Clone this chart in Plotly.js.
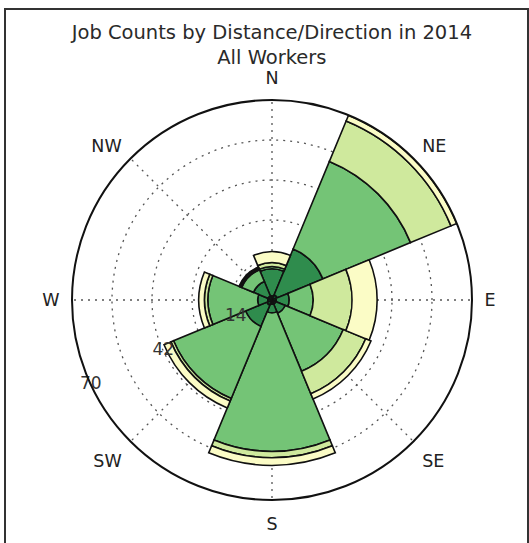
<!DOCTYPE html>
<html>
<head>
<meta charset="utf-8">
<script src="https://cdn.plot.ly/plotly-3.0.1.min.js"></script>
<style>
  html, body { margin: 0; padding: 0; background: #ffffff; }
  #wrap { position: relative; width: 529px; height: 543px; overflow: hidden; }
  #chart { position: absolute; left: 0; top: 0; width: 529px; height: 543px; }
  #frame { position: absolute; left: 4px; top: 8px; width: 521px; height: 560px;
           border: 2px solid #333; pointer-events: none; }
</style>
</head>
<body>
<div id="wrap">
  <div id="chart"></div>
  <div id="frame"></div>
</div>
<script>
// Directions (angular categories)
const directions = ['N', 'NE', 'E', 'SE', 'S', 'SW', 'W', 'NW'];

// Stacked job counts per distance bin (inner -> outer), one value per direction
const binNames = ['Bin 1', 'Bin 2', 'Bin 3', 'Bin 4', 'Bin 5'];
const bin1 = [1.5, 2.0, 1.5, 1.5, 1.5, 2.0, 1.5, 1.5];
const bin2 = [9.4, 17.3, 4.5, 3.5, 3.0, 8.0, 3.5, 5.5];
const bin3 = [0.8, 33.2, 8.4, 22.0, 48.5, 27.3, 17.4, 4.5];
const bin4 = [1.4, 15.3, 13.6, 8.5, 2.2, 1.0, 1.2, 0.5];
const bin5 = [3.8, 2.2, 8.8, 2.0, 2.7, 2.6, 2.0, 0.5];
const binColors = ['#0c4f2a', '#2f8c4d', '#74c476', '#cfe99d', '#fbfcc6'];

// Radial ticks (gridlines) and the subset that carries a label
const radialTicks = [14, 28, 42, 56, 70];
const radialLabelTicks = [14, 42, 70];

const titleLines = ['Job Counts by Distance/Direction in 2014', 'All Workers'];

// angular position of each direction (compass degrees), derived from its index
const sectorSize = 360 / directions.length;
const dirAngles = directions.map((d, i) => i * sectorSize);
const radialLabelAngle = 245; // compass angle along which radial labels sit

const binValues = [bin1, bin2, bin3, bin4, bin5];
const traces = binValues.map((vals, i) => ({
  type: 'barpolar',
  name: binNames[i],
  r: vals,
  theta: dirAngles,
  width: directions.map(() => sectorSize),
  marker: { color: binColors[i], line: { color: '#111', width: 1.6 } },
  hoverinfo: 'r'
}));

traces.push({
  type: 'scatterpolar',
  mode: 'text',
  r: radialLabelTicks,
  theta: radialLabelTicks.map(() => radialLabelAngle),
  text: radialLabelTicks.map(String),
  textposition: 'middle center',
  textfont: { family: 'DejaVu Sans, sans-serif', size: 17, color: '#333' },
  cliponaxis: false,
  hoverinfo: 'skip'
});

const layout = {
  width: 529,
  height: 543,
  paper_bgcolor: '#ffffff',
  showlegend: false,
  margin: { l: 72, r: 57, t: 100, b: 43 },
  font: { family: 'DejaVu Sans, sans-serif', color: '#222' },
  title: {
    text: titleLines.join('<br>'),
    font: { family: 'DejaVu Sans, sans-serif', size: 19.5, color: '#2a2a2a' },
    x: 0.514, xanchor: 'center',
    y: 1 - 39 / 543, yanchor: 'top', yref: 'container'
  },
  polar: {
    bgcolor: '#ffffff',
    bargap: 0,
    barmode: 'stack',
    domain: { x: [0, 1], y: [0, 1] },
    angularaxis: {
      type: 'linear',
      thetaunit: 'degrees',
      rotation: 90,
      direction: 'clockwise',
      tickmode: 'array',
      tickvals: dirAngles,
      ticktext: directions,
      showline: true,
      linecolor: '#111',
      linewidth: 2,
      showgrid: true,
      gridcolor: '#555',
      griddash: '2px,5px',
      gridwidth: 1.3,
      ticks: 'outside',
      ticklen: 8,
      tickcolor: 'rgba(0,0,0,0)',
      tickfont: { family: 'DejaVu Sans, sans-serif', size: 17.5, color: '#222' }
    },
    radialaxis: {
      range: [0, 70],
      tickmode: 'array',
      tickvals: radialTicks,
      showticklabels: false,
      showline: false,
      ticks: '',
      showgrid: true,
      gridcolor: '#555',
      griddash: '2px,5px',
      gridwidth: 1.3
    }
  }
};

Plotly.newPlot('chart', traces, layout, { displayModeBar: false, staticPlot: true });
</script>
</body>
</html>
